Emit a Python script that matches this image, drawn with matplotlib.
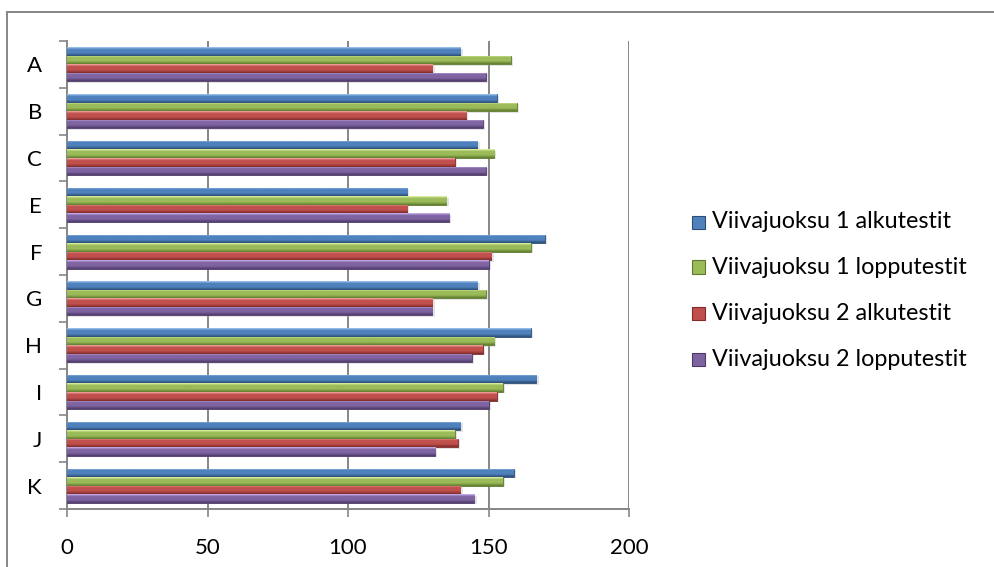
import numpy as np
import matplotlib
matplotlib.use("Agg")
import matplotlib.pyplot as plt
from matplotlib.colors import LinearSegmentedColormap
from matplotlib.lines import Line2D

plt.rcParams['font.family'] = ['Lato', 'DejaVu Sans']

categories = ["A", "B", "C", "E", "F", "G", "H", "I", "J", "K"]
series_names = [
    "Viivajuoksu 1 alkutestit",
    "Viivajuoksu 1 lopputestit",
    "Viivajuoksu 2 alkutestit",
    "Viivajuoksu 2 lopputestit",
]
run1_start = [140, 153, 146, 121, 170, 146, 165, 167, 140, 159]
run1_end = [158, 160, 152, 135, 165, 149, 152, 155, 138, 155]
run2_start = [130, 142, 138, 121, 151, 130, 148, 153, 139, 140]
run2_end = [149, 148, 149, 136, 150, 130, 144, 150, 131, 145]
series_values = [run1_start, run1_end, run2_start, run2_end]

xticks = [0, 50, 100, 150, 200]

# (light top, base, dark bottom) for the bevelled bar look
palettes = [
    ("#a6ccf7", "#4f81bd", "#2c4d75"),
    ("#e6f7ad", "#9bbb59", "#5f7a2e"),
    ("#f9aeab", "#c0504d", "#7e2b29"),
    ("#d0b8f4", "#8064a2", "#4e3a6a"),
]

fig = plt.figure(figsize=(9.95, 5.67), dpi=100)
ax = fig.add_axes([67 / 995, 1 - 509 / 567, (629 - 67) / 995, (509 - 41) / 567])

n_series = len(series_values)
bar_h = 1 / 5.5
y_base = np.arange(len(categories))

grad = np.linspace(0, 1, 64).reshape(-1, 1)

for s, (vals, pal) in enumerate(zip(series_values, palettes)):
    light, base, dark = pal
    cmap = LinearSegmentedColormap.from_list(
        f"bev{s}", [(0.0, light), (0.25, base), (0.65, base), (1.0, dark)])
    offs = (s - (n_series - 1) / 2) * bar_h
    # soft shadow
    ax.barh(y_base + offs + 0.03, np.array(vals) + 0.8, height=bar_h,
            color="#b0b0b0", alpha=0.35, linewidth=0, zorder=2)
    bars = ax.barh(y_base + offs, vals, height=bar_h, color=base,
                   edgecolor=dark, linewidth=0.6, zorder=3,
                   label=series_names[s])
    for p in bars:
        x0, y0 = p.get_x(), p.get_y()
        w, h = p.get_width(), p.get_height()
        im = ax.imshow(grad, cmap=cmap, aspect="auto",
                       extent=(x0, x0 + w, y0 + h, y0), zorder=3.5,
                       interpolation="bilinear")
        im.set_clip_path(p)

ax.set_xlim(0, 200)
ax.set_ylim(len(categories) - 0.5, -0.5)

grid_col = "#868686"
ax.set_xticks(xticks)
ax.set_xticklabels([str(t) for t in xticks], fontsize=16)
for t in xticks[1:]:
    ax.axvline(t, color=grid_col, linewidth=1.4, zorder=1)

ax.set_yticks(y_base)
ax.set_yticklabels(categories, fontsize=16)
ax.set_yticks(np.arange(len(categories) + 1) - 0.5, minor=True)
ax.tick_params(axis="y", which="major", length=0, pad=18)
ax.tick_params(axis="y", which="minor", length=6, width=1.2, color=grid_col)
ax.tick_params(axis="x", length=6, width=1.2, color=grid_col, pad=15)

for side in ("top", "right"):
    ax.spines[side].set_visible(False)
for side in ("left", "bottom"):
    ax.spines[side].set_color(grid_col)
    ax.spines[side].set_linewidth(1.4)

# legend entries on the right
leg_y = [222, 267, 313, 359]
for name, pal, yy in zip(series_names, palettes, leg_y):
    yf = 1 - yy / 567
    fig.patches.append(plt.Rectangle((692 / 995, yf - 6.5 / 567), 13 / 995, 13 / 567,
                                     transform=fig.transFigure, facecolor=pal[1],
                                     edgecolor=pal[2], linewidth=0.8))
    fig.text(712 / 995, yf, name, fontsize=16.8, va="center", ha="left")

# chart frame
fig.add_artist(Line2D([7 / 995, 1.0], [1 - 12 / 567, 1 - 12 / 567],
                      transform=fig.transFigure, color=grid_col, linewidth=1.4))
fig.add_artist(Line2D([7 / 995, 7 / 995], [0.0, 1 - 12 / 567],
                      transform=fig.transFigure, color=grid_col, linewidth=1.4))

fig.savefig("out.png", dpi=100)
